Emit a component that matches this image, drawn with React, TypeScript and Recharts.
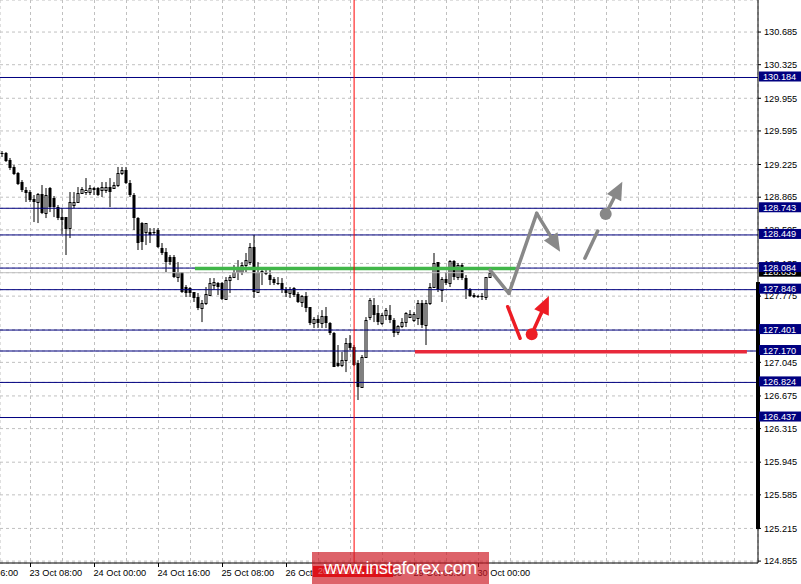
import {
  ComposedChart,
  Bar,
  XAxis,
  YAxis,
  CartesianGrid,
  ReferenceLine,
  ReferenceDot,
} from 'recharts'

const FONT = '"Liberation Sans", Arial, sans-serif'

// hourly USDJPY bars, oldest first
const opens = [
  129.352, 129.352, 129.275, 129.198, 129.131, 129.032, 128.944, 128.922, 128.845, 128.812,
  128.9, 128.69, 128.966, 128.856, 128.757, 128.646, 128.646, 128.525, 128.779, 128.812,
  128.911, 128.922, 128.922, 128.955, 128.966, 128.944, 128.944, 128.977, 128.966, 128.999,
  129.131, 129.164, 129.021, 128.889, 128.635, 128.58, 128.481, 128.481, 128.481, 128.503,
  128.305, 128.261, 128.206, 128.206, 127.985, 128.04, 127.875, 127.864, 127.82, 127.765,
  127.644, 127.699, 127.787, 127.897, 127.919, 127.919, 127.743, 127.952, 127.985, 128.04,
  128.04, 128.117, 128.15, 128.316, 127.82, 128.051, 128.04, 128.007, 127.963, 127.919,
  127.919, 127.853, 127.809, 127.864, 127.798, 127.71, 127.776, 127.655, 127.478, 127.522,
  127.478, 127.555, 127.478, 127.368, 127.037, 127.015, 127.07, 127.258, 127.214, 127.037,
  126.773, 127.104, 127.544, 127.677, 127.588, 127.478, 127.566, 127.566, 127.511, 127.379,
  127.445, 127.489, 127.544, 127.511, 127.533, 127.699, 127.456, 127.699, 127.875, 128.15,
  127.842, 127.963, 127.919, 128.161, 127.985, 128.117, 127.974, 127.853, 127.787, 127.776,
  127.776, 127.765, 127.985,
]
const highs = [
  129.374, 129.363, 129.297, 129.22, 129.142, 129.054, 128.977, 128.944, 128.889, 128.911,
  128.999, 128.966, 128.977, 128.878, 128.779, 128.746, 128.646, 128.922, 128.922, 128.977,
  128.977, 129.076, 128.999, 128.977, 128.977, 129.032, 129.032, 129.076, 129.032, 129.198,
  129.198, 129.198, 129.054, 128.911, 128.646, 128.591, 128.58, 128.525, 128.525, 128.525,
  128.36, 128.305, 128.228, 128.228, 128.15, 128.04, 127.897, 127.875, 127.82, 127.809,
  127.732, 127.875, 127.974, 127.974, 127.93, 127.93, 127.985, 128.007, 128.117, 128.172,
  128.15, 128.25, 128.36, 128.448, 128.15, 128.095, 128.062, 128.095, 127.985, 127.985,
  127.974, 127.875, 127.875, 127.875, 127.82, 127.787, 127.82, 127.655, 127.544, 127.566,
  127.621, 127.655, 127.489, 127.379, 127.236, 127.159, 127.313, 127.346, 127.236, 127.07,
  127.126, 127.544, 127.754, 127.754, 127.677, 127.588, 127.644, 127.677, 127.533, 127.456,
  127.533, 127.599, 127.621, 127.599, 127.732, 127.732, 127.732, 127.919, 128.25, 128.15,
  127.985, 128.04, 128.172, 128.172, 128.139, 128.139, 128.007, 127.864, 127.809, 127.787,
  127.809, 127.985, 128.062,
]
const lows = [
  129.308, 129.253, 129.164, 129.109, 128.999, 128.922, 128.812, 128.812, 128.591, 128.58,
  128.679, 128.635, 128.701, 128.646, 128.613, 128.459, 128.228, 128.415, 128.746, 128.812,
  128.911, 128.889, 128.889, 128.889, 128.878, 128.867, 128.911, 128.757, 128.966, 128.977,
  129.109, 129.01, 128.867, 128.503, 128.283, 128.283, 128.338, 128.36, 128.448, 128.305,
  128.228, 128.04, 128.117, 127.974, 127.93, 127.809, 127.765, 127.765, 127.71, 127.621,
  127.489, 127.677, 127.787, 127.842, 127.787, 127.732, 127.732, 127.809, 127.974, 127.952,
  128.007, 128.04, 128.117, 127.754, 127.82, 127.897, 128.007, 127.897, 127.897, 127.897,
  127.809, 127.765, 127.754, 127.765, 127.699, 127.655, 127.599, 127.456, 127.423, 127.423,
  127.423, 127.423, 127.346, 126.993, 126.993, 126.993, 126.938, 127.181, 127.004, 126.63,
  126.773, 127.104, 127.511, 127.489, 127.456, 127.456, 127.511, 127.478, 127.324, 127.346,
  127.423, 127.434, 127.533, 127.489, 127.456, 127.423, 127.236, 127.677, 127.864, 127.82,
  127.71, 127.897, 127.875, 127.952, 127.952, 127.952, 127.743, 127.765, 127.754, 127.754,
  127.732, 127.732, 127.985,
]
const closes = [
  129.341, 129.264, 129.187, 129.12, 129.01, 128.944, 128.911, 128.834, 128.812, 128.9,
  128.69, 128.889, 128.757, 128.757, 128.635, 128.613, 128.514, 128.812, 128.812, 128.911,
  128.955, 128.944, 128.966, 128.966, 128.889, 128.977, 128.977, 128.922, 128.999, 129.131,
  129.164, 129.021, 128.889, 128.635, 128.36, 128.371, 128.58, 128.448, 128.47, 128.316,
  128.25, 128.15, 128.15, 127.985, 128.04, 127.82, 127.809, 127.809, 127.754, 127.644,
  127.699, 127.798, 127.919, 127.93, 127.875, 127.743, 127.952, 127.985, 128.04, 128.084,
  128.117, 128.172, 128.316, 127.82, 128.04, 128.029, 128.018, 127.952, 127.919, 127.908,
  127.842, 127.809, 127.853, 127.787, 127.71, 127.776, 127.644, 127.478, 127.522, 127.478,
  127.555, 127.478, 127.368, 126.993, 127.004, 127.07, 127.258, 127.203, 127.015, 126.773,
  127.104, 127.511, 127.732, 127.566, 127.489, 127.566, 127.621, 127.511, 127.368, 127.445,
  127.489, 127.588, 127.577, 127.577, 127.699, 127.456, 127.699, 127.875, 128.139, 127.842,
  127.963, 127.919, 128.161, 127.985, 128.117, 127.974, 127.853, 127.776, 127.765, 127.765,
  127.765, 127.985, 128.033,
]

// bar index of each time label (weekend hours skipped)
const labelBars = [-9, 7, 23, 39, 55, 71, 87, 103, 119]
const timeLabels = [
  '22 Oct 16:00', '23 Oct 08:00', '24 Oct 00:00', '24 Oct 16:00', '25 Oct 08:00',
  '26 Oct 00:00', '26 Oct 16:00', '29 Oct 08:00', '30 Oct 00:00',
]

const priceTicks = [
  130.685, 130.325, 129.955, 129.595, 129.225, 128.865, 128.505, 128.135, 127.775,
  127.405, 127.045, 126.675, 126.315, 125.945, 125.585, 125.215, 124.855,
]

const levels = [130.184, 128.743, 128.449, 128.084, 127.846, 127.401, 127.17, 126.824, 126.437]
const bid = 128.033
const markerBar = 87.9

// analyst drawings: [bar, price]
const greenZone = [[48.1, 128.079], [128.3, 128.079]]
const redZone = [[103.1, 127.163], [186.1, 127.163]]
const greyPath = [[121.9, 128.062], [126.6, 127.805], [133.55, 128.687], [139.4, 128.264]]
const greyDash = [[145.6, 128.192], [148.8, 128.492]]
const greyDot = [150.8, 128.68]
const greyTip = [154.95, 129.036]
const redDash = [[126.3, 127.658], [129.4, 127.31]]
const redDot = [132.3, 127.354]
const redTip = [136.6, 127.776]
const scaleBar = [127.93, 125.208]

const X_DOMAIN = [-0.625, 188.875]
const Y_DOMAIN = [124.834, 131.038]
const NAVY = '#000080'
const GREY = '#888888'
const RED = '#ed1c24'

const candles = opens.map((open, i) => ({
  bar: i,
  open,
  high: highs[i],
  low: lows[i],
  close: closes[i],
  range: [lows[i], highs[i]],
}))

const gridBars = Array.from({ length: 25 }, (_, i) => -9 + i * 8)
// price tags go last so they are painted over the scale labels
const yTicks = [...priceTicks, bid, ...levels]

function Candle(props: any) {
  const { x, y, width, height, payload } = props
  const { open, high, low, close } = payload
  const k = high > low ? height / (high - low) : 0
  const cx = x + width / 2
  const yo = Math.round(y + (high - open) * k)
  const yc = Math.round(y + (high - close) * k)
  const top = Math.min(yo, yc)
  const h = Math.max(Math.abs(yc - yo), 1)
  return (
    <g>
      <line x1={cx} y1={y} x2={cx} y2={y + height} stroke="#000" />
      {close > open ? (
        <rect x={x + 0.5} y={top + 0.5} width={width - 1} height={h} fill="#fff" stroke="#000" />
      ) : (
        <rect x={x} y={top} width={width} height={h} fill="#000" />
      )}
    </g>
  )
}

function TimeTick(props: any) {
  const { x, y, payload } = props
  const idx = labelBars.indexOf(payload.value)
  if (idx < 0) return null
  return (
    <g>
      <line x1={x} y1={y} x2={x} y2={y + 4} stroke="#000" />
      <text x={x - 1} y={y + 13} fontSize={9.2} fontFamily={FONT} fill="#000">
        {timeLabels[idx]}
      </text>
    </g>
  )
}

function PriceTick(props: any) {
  const { x, y, payload } = props
  const v = payload.value
  const isTag = v === bid || levels.includes(v)
  if (isTag) {
    return (
      <g>
        <rect x={x + 1} y={y - 6} width={43} height={10} fill={v === bid ? '#000' : NAVY} />
        <text x={x + 5} y={y + 2.5} fill="#fff" fontSize={9.2} fontFamily={FONT}>
          {v.toFixed(3)}
        </text>
      </g>
    )
  }
  return (
    <g>
      <line x1={x} y1={y} x2={x + 3} y2={y} stroke="#000" />
      <text x={x + 6} y={y + 3.3} fill="#000" fontSize={9.2} fontFamily={FONT}>
        {v.toFixed(3)}
      </text>
    </g>
  )
}

function arrowShape(color: string, width: number, head: boolean) {
  return (p: any) => {
    const { x1, y1, x2, y2 } = p
    const dx = x2 - x1
    const dy = y2 - y1
    const len = Math.hypot(dx, dy) || 1
    const ux = dx / len
    const uy = dy / len
    const L = head ? 18 : 0
    const bx = x2 - ux * L
    const by = y2 - uy * L
    return (
      <g>
        <line x1={x1} y1={y1} x2={bx} y2={by} stroke={color} strokeWidth={width} strokeLinecap="round" />
        {head && (
          <polygon
            points={`${x2},${y2} ${bx - uy * 8},${by + ux * 8} ${bx + uy * 8},${by - ux * 8}`}
            fill={color}
          />
        )}
      </g>
    )
  }
}

function seg(a: number[], b: number[]) {
  return [
    { x: a[0], y: a[1] },
    { x: b[0], y: b[1] },
  ]
}

export default function App() {
  return (
    <div style={{ position: 'absolute', left: 0, top: 0, width: 801, height: 584, background: '#fff' }}>
      <ComposedChart
        width={801}
        height={584}
        data={candles}
        margin={{ top: 0, right: 0, bottom: 0, left: 0 }}
      >
        <CartesianGrid stroke="#c0c0c0" strokeDasharray="3 3" />
        <XAxis
          dataKey="bar"
          type="number"
          domain={X_DOMAIN}
          allowDataOverflow
          ticks={gridBars}
          interval={0}
          height={21}
          tickSize={0}
          tickMargin={0}
          tickLine={false}
          axisLine={{ stroke: '#000' }}
          tick={<TimeTick />}
        />
        <YAxis
          orientation="right"
          type="number"
          domain={Y_DOMAIN}
          allowDataOverflow
          ticks={yTicks}
          interval={0}
          width={43}
          tickSize={0}
          tickMargin={0}
          tickLine={false}
          axisLine={{ stroke: '#000' }}
          tick={<PriceTick />}
        />
        <Bar dataKey="range" barSize={3} shape={<Candle />} isAnimationActive={false} />

        <ReferenceLine y={bid} stroke="#c0c0c0" />
        {levels.map((v) => (
          <ReferenceLine key={v} y={v} stroke={NAVY} />
        ))}
        <ReferenceLine
          segment={seg([X_DOMAIN[1], scaleBar[0]], [X_DOMAIN[1], scaleBar[1]])}
          stroke="#000"
          strokeWidth={4}
        />
        <ReferenceLine segment={seg(greenZone[0], greenZone[1])} stroke="#41b649" strokeWidth={3.5} />
        <ReferenceLine segment={seg(redZone[0], redZone[1])} stroke="#e8293b" strokeWidth={3.5} />
        <ReferenceLine x={markerBar} stroke="#ff0000" />

        {greyPath.slice(1).map((pt, i) => (
          <ReferenceLine
            key={'g' + i}
            segment={seg(greyPath[i], pt)}
            shape={arrowShape(GREY, 3.5, i === greyPath.length - 2)}
          />
        ))}
        <ReferenceLine segment={seg(greyDash[0], greyDash[1])} shape={arrowShape(GREY, 3.5, false)} />
        <ReferenceDot x={greyDot[0]} y={greyDot[1]} r={6} fill={GREY} stroke="none" />
        <ReferenceLine segment={seg(greyDot, greyTip)} shape={arrowShape(GREY, 3.5, true)} />

        <ReferenceLine segment={seg(redDash[0], redDash[1])} shape={arrowShape(RED, 3.5, false)} />
        <ReferenceDot x={redDot[0]} y={redDot[1]} r={6} fill={RED} stroke="none" />
        <ReferenceLine segment={seg(redDot, redTip)} shape={arrowShape(RED, 3.5, true)} />
      </ComposedChart>

      <div
        style={{
          position: 'absolute',
          left: 313,
          top: 566,
          width: 80,
          height: 11,
          background: '#ff0000',
          color: '#fff',
          font: `9px ${FONT}`,
          lineHeight: '11px',
          textAlign: 'center',
        }}
      >
        2018.10.26 17:00
      </div>
      <div
        style={{
          position: 'absolute',
          left: 312,
          top: 552,
          width: 177,
          height: 32,
          background: 'rgba(205, 25, 35, 0.68)',
          color: '#fff',
          font: `18px ${FONT}`,
          letterSpacing: -0.4,
          lineHeight: '32px',
          textAlign: 'center',
        }}
      >
        www.instaforex.com
      </div>
    </div>
  )
}
